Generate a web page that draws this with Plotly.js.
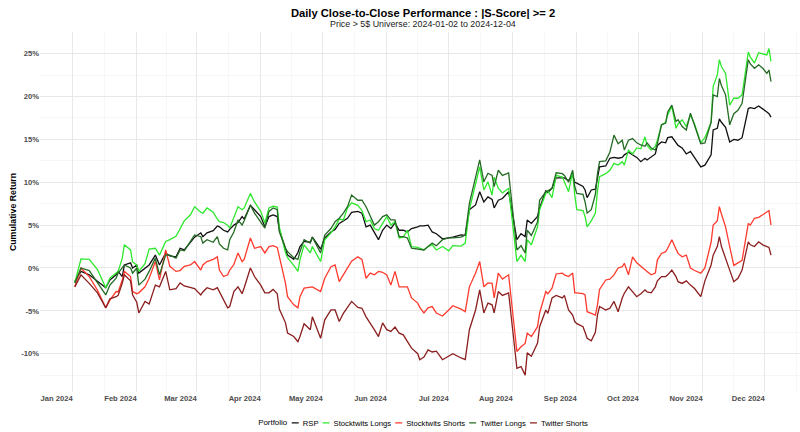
<!DOCTYPE html>
<html>
<head>
<meta charset="utf-8">
<script src="https://cdn.plot.ly/plotly-3.0.1.min.js"></script>
<style>
html,body{margin:0;padding:0;background:#fff;overflow:hidden;}
#chart{width:800px;height:432px;}
</style>
</head>
<body>
<div id="chart"></div>
<script>
const dates = [
"2024-01-02","2024-01-05","2024-01-09","2024-01-13","2024-01-17","2024-01-19","2024-01-22","2024-01-23","2024-01-25","2024-01-26",
"2024-01-29","2024-01-30","2024-02-01","2024-02-02","2024-02-05","2024-02-07","2024-02-10","2024-02-12","2024-02-15","2024-02-17",
"2024-02-20","2024-02-22","2024-02-24","2024-02-27","2024-02-29","2024-03-03","2024-03-04","2024-03-06","2024-03-09","2024-03-11",
"2024-03-12","2024-03-14","2024-03-16","2024-03-17","2024-03-19","2024-03-21","2024-03-23","2024-03-24","2024-03-27","2024-03-29",
"2024-04-01","2024-04-03","2024-04-05","2024-04-07","2024-04-09","2024-04-10","2024-04-13","2024-04-14","2024-04-17","2024-04-19",
"2024-04-20","2024-04-22","2024-04-25","2024-04-26","2024-04-30","2024-05-02","2024-05-05","2024-05-07","2024-05-09","2024-05-11",
"2024-05-13","2024-05-15","2024-05-18","2024-05-20","2024-05-22","2024-05-24","2024-05-26","2024-05-28","2024-05-30","2024-06-01",
"2024-06-03","2024-06-05","2024-06-07","2024-06-09","2024-06-11","2024-06-13","2024-06-16","2024-06-17","2024-06-19","2024-06-21",
"2024-06-23","2024-06-25","2024-06-28","2024-07-01","2024-07-03","2024-07-07","2024-07-09","2024-07-11","2024-07-14","2024-07-16",
"2024-07-18","2024-07-20","2024-07-22","2024-07-23","2024-07-25","2024-07-27","2024-07-30","2024-08-03","2024-08-05","2024-08-07",
"2024-08-08","2024-08-10","2024-08-13","2024-08-14","2024-08-17","2024-08-18","2024-08-20","2024-08-22","2024-08-25","2024-08-26",
"2024-08-28","2024-08-30","2024-08-31","2024-09-01","2024-09-04","2024-09-05","2024-09-06","2024-09-08","2024-09-10","2024-09-11",
"2024-09-12","2024-09-15","2024-09-17","2024-09-19","2024-09-21","2024-09-23","2024-09-24","2024-09-26","2024-09-28","2024-09-30",
"2024-10-02","2024-10-04","2024-10-05","2024-10-07","2024-10-09","2024-10-10","2024-10-12","2024-10-14","2024-10-15","2024-10-17",
"2024-10-19","2024-10-20","2024-10-22","2024-10-24","2024-10-26","2024-10-28","2024-10-31","2024-11-02","2024-11-05","2024-11-06",
"2024-11-08","2024-11-09","2024-11-10","2024-11-12","2024-11-14","2024-11-16","2024-11-18","2024-11-20","2024-11-23","2024-11-24",
"2024-11-26","2024-11-28","2024-11-30","2024-12-02","2024-12-03","2024-12-04"];

const rsp = [
-1.6,-0.4,-0.8,-1.6,-2.3,-1.4,-0.8,-0.4,-1.0,0.35,
0.6,0.0,0.35,-0.6,0.0,0.35,1.5,0.35,1.75,1.4,
1.3,2.3,2.1,3.0,3.6,4.1,3.65,4.1,4.35,4.9,
4.8,4.4,4.2,4.5,5.0,5.3,6.0,5.7,7.3,6.8,
6.0,4.8,6.0,6.2,6.0,4.5,2.1,1.5,1.0,1.8,
2.5,3.1,3.0,3.6,2.2,3.5,4.2,4.5,5.2,5.5,
5.8,6.5,6.6,6.4,4.8,5.0,4.1,3.3,4.4,5.0,
4.6,5.25,4.4,4.4,4.2,4.6,4.8,4.9,4.9,5.0,
4.2,4.0,3.4,3.5,3.6,3.85,3.8,6.8,7.35,8.9,
7.7,8.3,8.0,7.0,7.9,8.1,8.9,3.3,4.0,3.65,
5.6,5.2,6.0,7.0,9.0,8.8,9.3,10.5,10.5,10.5,
10.2,10.8,10.0,9.9,9.5,9.1,8.2,9.1,9.2,10.5,
11.8,11.9,12.8,12.9,12.8,12.9,13.2,13.5,13.2,12.9,
12.4,12.8,12.6,13.0,13.3,14.3,14.7,14.6,15.2,15.3,
14.6,14.3,14.0,13.3,13.6,12.9,11.8,12.0,13.2,16.1,
16.3,17.4,17.0,16.4,14.7,15.0,14.9,15.2,18.6,18.7,
18.6,18.9,18.6,18.2,18.0,17.6];

const stocktwitsLongs = [
-1.75,1.05,1.0,-0.2,-2.3,-1.2,-0.6,-0.4,1.15,2.7,
2.1,0.7,0.35,-0.4,0.5,2.2,2.3,1.5,3.1,3.3,
3.7,4.6,5.5,6.2,7.15,6.5,6.4,7.0,6.5,5.7,
5.4,5.3,5.0,4.65,5.8,7.15,6.8,7.0,8.7,7.7,
6.6,5.25,7.0,7.2,7.1,4.8,1.75,1.2,0.3,-0.4,
0.95,2.7,1.75,2.5,0.75,3.3,4.1,4.8,5.7,5.6,
7.0,7.6,7.3,6.7,5.4,5.6,4.6,4.4,5.2,6.0,
5.0,5.4,3.5,3.6,4.4,2.5,2.4,2.3,2.1,2.5,
2.7,2.1,2.5,2.0,2.6,2.55,2.9,6.8,10.0,11.8,
9.1,10.05,8.5,10.6,9.3,8.75,9.3,0.75,1.5,0.75,
3.3,2.7,4.8,6.8,8.7,9.0,8.2,10.8,10.6,10.0,
8.9,11.2,8.5,6.8,6.7,6.0,4.8,5.5,6.4,9.0,
10.65,11.0,11.4,12.2,12.0,12.4,12.0,13.75,13.3,14.0,
13.9,15.3,14.3,13.75,14.2,14.9,16.7,17.0,17.85,18.9,
16.3,16.8,17.3,16.5,17.85,16.8,14.6,15.2,17.0,21.2,
22.5,24.3,23.5,22.7,19.0,19.8,19.8,20.2,25.2,24.6,
23.9,25.1,25.0,24.85,25.6,24.1];

const stocktwitsShorts = [
-2.2,0.0,-1.0,-2.6,-4.65,-3.75,-2.75,-2.8,-1.4,-0.4,
-1.0,-2.75,-3.0,-2.9,-2.2,-1.2,0.75,-1.4,2.1,0.2,
-0.4,-0.3,0.2,0.35,0.75,-0.25,0.35,0.75,1.0,1.3,
-0.25,-1.0,-0.8,-0.25,0.4,1.75,0.75,1.0,3.5,2.3,
2.5,1.75,2.5,2.6,2.4,1.3,-1.8,-3.35,-4.3,-4.65,
-3.35,-2.35,-2.3,-2.2,-2.75,-1.2,0.15,0.35,-1.6,-0.8,
0.1,0.8,1.3,1.0,-1.2,-0.6,-0.8,-0.4,-0.5,-0.8,
-2.0,-0.4,-2.2,-2.2,-2.2,-3.5,-4.1,-4.6,-5.25,-4.65,
-4.5,-5.25,-5.6,-4.9,-4.4,-4.8,-5.1,-2.2,-0.6,0.75,
-2.2,-1.75,-1.8,-3.5,-0.6,-1.3,-0.8,-9.75,-9.2,-8.8,
-7.6,-8.0,-6.85,-5.25,-2.75,-3.0,-2.35,-0.7,-0.6,-0.8,
-1.0,-0.6,-2.9,-2.9,-3.0,-3.15,-5.1,-5.3,-5.5,-4.3,
-2.5,-1.4,-1.3,-0.8,0.0,0.15,0.55,-0.8,1.3,0.6,
0.15,-0.2,-0.4,-0.8,-0.6,0.95,1.7,1.9,2.3,3.3,
2.2,1.7,1.3,1.5,0.0,-0.3,-0.6,0.0,3.0,5.0,
5.5,7.15,6.3,4.8,2.5,0.3,0.6,0.9,5.2,5.0,
5.8,5.9,6.2,6.5,6.7,5.0];

const twitterLongs = [
-1.75,0.0,-0.3,-1.75,-3.15,-2.0,-1.2,-0.6,0.0,0.35,
0.0,-0.6,0.0,-2.0,-1.3,-0.4,1.15,-0.8,1.5,1.5,
1.15,2.1,2.0,3.1,3.85,3.65,2.9,3.3,3.0,3.65,
2.8,2.3,2.1,3.3,4.2,5.6,5.0,5.5,7.35,6.4,
5.4,4.65,6.6,7.0,6.8,4.2,2.3,1.9,1.2,1.0,
1.9,3.3,2.9,3.6,1.75,3.85,4.6,5.4,5.8,6.4,
7.15,8.5,7.9,7.9,7.15,6.0,5.0,5.4,6.0,6.2,
5.6,5.6,3.65,3.65,3.5,2.3,2.2,2.1,2.1,2.5,
2.9,2.6,3.3,3.5,3.5,3.6,3.85,7.55,10.5,12.6,
10.05,11.05,10.8,9.5,11.4,10.8,11.1,2.1,2.6,1.75,
4.4,3.8,5.4,7.9,8.9,9.0,9.3,11.1,11.0,10.8,
10.0,11.4,9.5,8.7,8.6,7.7,6.4,6.8,8.6,11.0,
12.4,12.5,13.5,15.5,14.5,14.9,13.75,14.9,15.1,14.6,
14.35,14.2,14.6,14.0,13.75,14.5,16.7,16.9,18.2,19.0,
17.1,17.3,16.5,16.1,18.05,16.6,14.5,14.6,17.0,20.2,
20.0,22.1,21.3,20.2,16.7,18.0,18.4,19.2,24.3,23.8,
23.3,23.7,23.3,22.7,23.1,21.75];

const twitterShorts = [
-2.2,-0.8,-1.8,-2.9,-4.65,-3.6,-3.35,-3.2,-1.75,-0.8,
-1.5,-3.15,-4.0,-5.25,-3.9,-4.2,-2.0,-2.2,-0.4,-2.55,
-2.4,-1.75,-2.1,-2.3,-2.4,-3.15,-2.8,-2.3,-2.55,-2.3,
-2.8,-3.75,-4.65,-4.5,-2.75,-2.2,-3.0,-2.3,0.0,-1.0,
-2.0,-2.9,-2.9,-2.5,-3.0,-4.8,-6.4,-7.6,-8.0,-8.6,
-8.0,-6.5,-7.2,-5.7,-8.2,-6.05,-4.9,-4.9,-6.25,-5.3,
-4.6,-3.9,-4.6,-4.7,-5.7,-6.4,-7.2,-8.0,-6.4,-7.2,
-7.4,-6.9,-7.6,-7.8,-8.6,-9.35,-10.0,-10.7,-10.4,-9.55,
-9.8,-9.7,-10.7,-10.3,-10.0,-10.5,-10.7,-7.2,-4.9,-2.55,
-5.25,-4.1,-4.3,-5.25,-2.75,-3.2,-2.9,-11.7,-11.5,-12.5,
-9.9,-10.3,-8.75,-6.85,-4.9,-5.3,-3.5,-3.2,-3.5,-3.2,
-4.9,-5.5,-6.25,-6.5,-6.85,-7.5,-8.2,-8.5,-7.5,-5.5,
-4.5,-4.9,-4.7,-3.9,-5.1,-3.5,-2.95,-2.2,-2.8,-3.35,
-3.0,-2.55,-2.8,-2.9,-2.2,-1.5,-1.0,-1.0,-0.8,-0.25,
-1.0,-1.6,-1.8,-1.5,-2.0,-2.4,-3.35,-1.5,0.35,1.5,
2.5,3.65,2.5,1.0,-0.25,-1.6,-1.2,-0.25,3.05,2.7,
2.5,3.05,2.7,2.5,2.4,1.5];

const seriesNames = ["RSP","Stocktwits Longs","Stocktwits Shorts","Twitter Longs","Twitter Shorts"];
const seriesValues = [rsp, stocktwitsLongs, stocktwitsShorts, twitterLongs, twitterShorts];
const seriesColors = ["#111111","#2ee82e","#ff3a2e","#256b25","#8b1e1e"];

const xTickVals = ["2024-01-01","2024-02-01","2024-03-01","2024-04-01","2024-05-01","2024-06-01",
                   "2024-07-01","2024-08-01","2024-09-01","2024-10-01","2024-11-01","2024-12-01"];
const xTickText = ["Jan 2024","Feb 2024","Mar 2024","Apr 2024","May 2024","Jun 2024",
                   "Jul 2024","Aug 2024","Sep 2024","Oct 2024","Nov 2024","Dec 2024"];
const yTickVals = [-10,-5,0,5,10,15,20,25];
const yTickText = ["-10%","-5%","0%","5%","10%","15%","20%","25%"];

// minor gridlines halfway between major breaks (as ggplot does)
function iso(ms){ return new Date(ms).toISOString().slice(0,19).replace("T"," "); }
const xMs = xTickVals.map(d => Date.parse(d + "T00:00:00Z"));
const xMinor = [iso(xMs[0] - (xMs[0] - Date.parse("2023-12-01T00:00:00Z"))/2)];
for (let i=0;i<xMs.length;i++){
  const next = (i+1<xMs.length) ? xMs[i+1] : Date.parse("2025-01-01T00:00:00Z");
  xMinor.push(iso((xMs[i]+next)/2));
}
const yMinor = [];
for (let i=0;i<yTickVals.length;i++){ yMinor.push(yTickVals[i]-2.5); }
yMinor.push(yTickVals[yTickVals.length-1]+2.5);

const FONT = "Liberation Sans, Arial, Helvetica, sans-serif";

const traces = seriesNames.map((n,i)=>({
  type:"scatter", mode:"lines", name:n, x:dates, y:seriesValues[i],
  line:{color:seriesColors[i], width:1.3}, hoverinfo:"x+y+name"
}));

const layout = {
  width:800, height:432,
  margin:{l:40, r:0, t:32, b:40},
  paper_bgcolor:"#ffffff", plot_bgcolor:"#ffffff",
  font:{family:FONT, color:"#000"},
  title:{
    text:"<b>Daily Close-to-Close Performance : |S-Score| &gt;= 2</b>",
    font:{family:FONT, size:11.2, color:"#000"},
    x:0.504, xref:"paper", xanchor:"center",
    y:0.969, yref:"container", yanchor:"middle"
  },
  annotations:[{
    text:"Price &gt; 5$ Universe: 2024-01-02 to 2024-12-04",
    xref:"paper", yref:"paper", x:0.504, y:1.0222, xanchor:"center", yanchor:"middle",
    showarrow:false, font:{family:FONT, size:8.9, color:"#1a1a1a"}
  }],
  xaxis:{
    type:"date",
    range:["2023-12-16 04:00","2024-12-18 00:45"],
    tickmode:"array", tickvals:xTickVals, ticktext:xTickText,
    ticklabelposition:"outside left",
    tickfont:{family:FONT, size:7.6, color:"#4d4d4d", weight:"bold"},
    ticks:"", showline:false, zeroline:false,
    showgrid:true, gridcolor:"#e6e6e6", gridwidth:0.9,
    minor:{tickmode:"array", tickvals:xMinor, showgrid:true, gridcolor:"#f1f1f1", gridwidth:0.6, ticks:""},
    fixedrange:true
  },
  yaxis:{
    range:[-14.47, 27.53],
    tickmode:"array", tickvals:yTickVals, ticktext:yTickText,
    tickfont:{family:FONT, size:7.6, color:"#4d4d4d", weight:"bold"},
    ticks:"", showline:false, zeroline:false,
    showgrid:true, gridcolor:"#e6e6e6", gridwidth:0.9,
    minor:{tickmode:"array", tickvals:yMinor, showgrid:true, gridcolor:"#f1f1f1", gridwidth:0.6, ticks:""},
    title:{text:"<b>Cumulative Return</b>", font:{family:FONT, size:8.8, color:"#000"}, standoff:3},
    fixedrange:true
  },
  showlegend:true,
  legend:{
    orientation:"h", x:0.504, xanchor:"center", xref:"paper",
    y:0.021, yref:"container", yanchor:"middle",
    title:{text:"Portfolio", side:"left", font:{family:FONT, size:7.9, color:"#000"}},
    font:{family:FONT, size:7.7, color:"#000"},
    itemwidth:30, tracegroupgap:0, bgcolor:"rgba(0,0,0,0)"
  }
};

// compact ggplot-style legend: short key lines, tight spacing, centred under the panel
function compactLegend(gd){
  try {
    const leg = gd.querySelector("g.legend");
    if(!leg) return;
    const items = Array.from(leg.querySelectorAll("g.traces"));
    if(!items.length) return;
    const KEY = 7, GAP = 4;
    const m0 = /translate\(\s*([-\d.e]+)[ ,]+([-\d.e]+)\s*\)/.exec(items[0].getAttribute("transform")||"");
    const rowY = m0 ? parseFloat(m0[2]) : 0;
    let cur = 0;
    const title = leg.querySelector(".legendtitletext");
    if(title){
      title.removeAttribute("transform");
      const bb = title.getBBox();
      title.setAttribute("transform","translate(" + (-bb.x) + "," + (rowY - (bb.y + bb.height/2)) + ")");
      cur = bb.width + GAP;
    }
    items.forEach(g=>{
      g.querySelectorAll("path.js-line").forEach(p=>p.setAttribute("d","M0,0h"+KEY));
      const t = g.querySelector("text.legendtext");
      t.setAttribute("x", KEY + GAP);
      t.querySelectorAll("tspan[x]").forEach(s=>s.setAttribute("x", KEY + GAP));
      const w = KEY + GAP + t.getComputedTextLength();
      g.setAttribute("transform","translate(" + cur + "," + rowY + ")");
      const tog = g.querySelector("rect.legendtoggle");
      if(tog){ tog.setAttribute("x",0); tog.setAttribute("width", w); }
      cur += w + GAP;
    });
    const total = cur - GAP;
    const fl = gd._fullLayout;
    const centre = fl.margin.l + fl._size.w * 0.504;
    const m = /translate\(\s*([-\d.e]+)[ ,]+([-\d.e]+)\s*\)/.exec(leg.getAttribute("transform")||"");
    const ly = m ? parseFloat(m[2]) : 0;
    leg.setAttribute("transform","translate(" + (centre - total/2) + "," + ly + ")");
  } catch(e) { console.log(e); }
}

const gd = document.getElementById("chart");
Plotly.newPlot(gd, traces, layout, {displayModeBar:false, staticPlot:true}).then(()=>compactLegend(gd));
</script>
</body>
</html>
